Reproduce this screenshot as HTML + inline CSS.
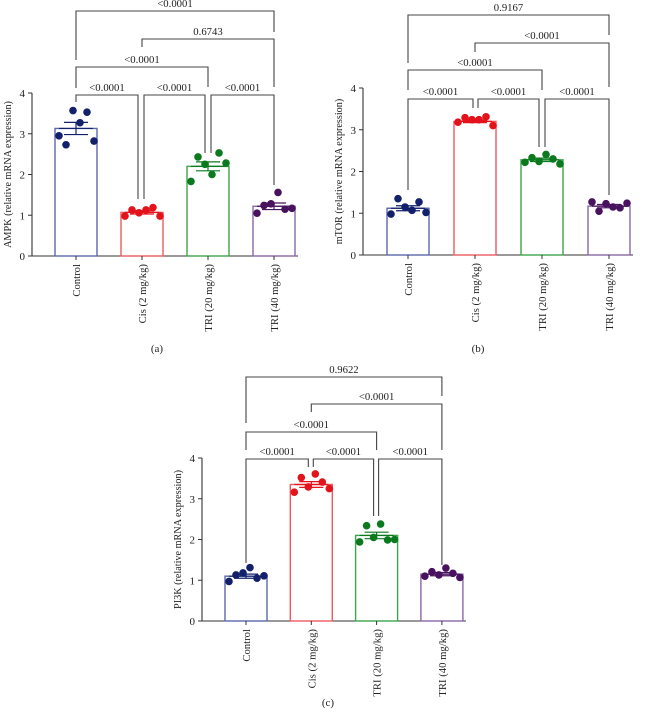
<!DOCTYPE html>
<html><head><meta charset="utf-8"><style>
html,body{margin:0;padding:0;background:#fff;}
svg{display:block;font-family:"Liberation Serif",serif;}
</style></head><body>
<svg id="fig" width="656" height="719" viewBox="0 0 656 719"></svg>
<script>
const categories = ["Control","Cis (2 mg/kg)","TRI (20 mg/kg)","TRI (40 mg/kg)"];
const yTicks = [0,1,2,3,4];
const ampkMeans = [3.13,1.07,2.2,1.22];
const ampkSem = [0.15,0.04,0.11,0.08];
const ampkDots = [[2.95,2.73,3.57,3.27,3.53,2.82],[0.98,1.13,1.06,1.13,1.19,0.98],[1.83,2.43,2.25,2.0,2.53,2.28],[1.05,1.24,1.28,1.56,1.15,1.17]];
const mtorMeans = [1.12,3.2,2.28,1.17];
const mtorSem = [0.06,0.03,0.04,0.04];
const mtorDots = [[0.98,1.35,1.15,1.07,1.27,1.02],[3.18,3.29,3.24,3.24,3.31,3.1],[2.22,2.33,2.24,2.41,2.3,2.18],[1.27,1.05,1.23,1.15,1.13,1.24]];
const pi3kMeans = [1.1,3.35,2.1,1.15];
const pi3kSem = [0.05,0.07,0.08,0.04];
const pi3kDots = [[0.97,1.13,1.18,1.31,1.05,1.11],[3.16,3.52,3.29,3.61,3.41,3.25],[1.94,2.34,2.05,2.38,1.99,2.0],[1.1,1.21,1.13,1.3,1.17,1.07]];
const ampkP = ["<0.0001","0.6743","<0.0001","<0.0001","<0.0001","<0.0001"];
const mtorP = ["0.9167","<0.0001","<0.0001","<0.0001","<0.0001","<0.0001"];
const pi3kP = ["0.9622","<0.0001","<0.0001","<0.0001","<0.0001","<0.0001"];

const dotColors=["#13206b","#e3121b","#0b7a1e","#48125e"];
const barColors=["#5b68ad","#ec5a5e","#3fa54c","#8a68a8"];
const NS="http://www.w3.org/2000/svg";
const svg=document.getElementById("fig");
function mk(tag,attrs,parent){const e=document.createElementNS(NS,tag);for(const k in attrs)e.setAttribute(k,attrs[k]);(parent||svg).appendChild(e);return e;}

function panel(cfg){
  const g=mk("g",{});
  
  
  const {ax,base,unit,c0,pitch}=cfg;
  const y=v=>base-v*unit;
  const x=i=>c0+i*pitch;
  const axisG=mk("g",{},g);
  
  
  mk("line",{x1:ax,y1:y(4),x2:ax,y2:base,stroke:"#333","stroke-width":1.1},axisG);
  yTicks.forEach(t=>{
    mk("line",{x1:ax-4,y1:y(t),x2:ax,y2:y(t),stroke:"#333"},axisG);
    const tx=mk("text",{x:ax-7,y:y(t)+4,"font-size":11,"text-anchor":"end",fill:"#222"},axisG);
    tx.textContent=t;
    
    
  });
  const yt=mk("text",{x:0,y:0,"font-size":10.2,"text-anchor":"middle",fill:"#222",transform:`translate(${ax-21},${y(2)}) rotate(-90)`},g);
  yt.textContent=cfg.ytitle;
  
  
  const xa=mk("line",{x1:ax,y1:base,x2:x(3)+24,y2:base,stroke:"#333","stroke-width":1.1},g);
  
  
  const offs=[-17,-10,-3,4,11,18];
  cfg.means.forEach((m,i)=>{
    const b=mk("rect",{x:x(i)-21,y:y(m),width:42,height:base-y(m),fill:"none",stroke:barColors[i],"stroke-width":1.4},g);
    
    
    mk("line",{x1:x(i),y1:base,x2:x(i),y2:base+4,stroke:"#333"},g);
    const lt=mk("text",{x:0,y:0,"font-size":10.7,"text-anchor":"end",fill:"#222",transform:`translate(${x(i)+4},${base+8}) rotate(-90)`},g);
    lt.textContent=categories[i];
    
    
    cfg.dots[i].forEach((v,k)=>{
      const d=mk("circle",{cx:x(i)+offs[k],cy:y(v),r:3.8,fill:dotColors[i]},g);
      
      
    });
    const s=cfg.sem[i];
    const e=mk("path",{d:`M${x(i)},${y(m+s)}V${y(m-s)}M${x(i)-12},${y(m+s)}H${x(i)+12}M${x(i)-12},${y(m-s)}H${x(i)+12}M${x(i)-17},${y(m)}H${x(i)+17}`,stroke:dotColors[i],"stroke-width":1.2,fill:"none"},g);
    
    
  });
  cfg.brackets.forEach(bk=>{
    const [i,j,ly,le,re,dl,dr,lab]=bk;
    const x1=x(i)+dl,x2=x(j)+dr;
    const p=mk("path",{d:`M${x1},${le}V${ly}H${x2}V${re}`,stroke:"#444","stroke-width":1.1,fill:"none"},g);
    
    
    const t=mk("text",{x:(x1+x2)/2,y:ly-4,"font-size":10.7,"text-anchor":"middle",fill:"#222"},g);
    t.textContent=lab;
    
    
  });
  const cap=mk("text",{x:cfg.capX,y:cfg.capY,"font-size":11,"text-anchor":"middle",fill:"#222"},g);
  cap.textContent=cfg.cap;
  
  
}

panel({name:"ampk-panel",ax:32,base:256,unit:40.75,c0:76,pitch:66,means:ampkMeans,sem:ampkSem,dots:ampkDots,
 ytitle:"AMPK (relative mRNA expression)",cap:"(a)",capX:157,capY:352,
 brackets:[[0,3,11,60,32,0,0,ampkP[0]],[1,3,39,47,87,0,0,ampkP[1]],[0,2,67,88,87,0,0,ampkP[2]],
 [0,1,95,102,199,0,-4,ampkP[3]],[1,2,95,199,153,2,-3,ampkP[4]],[2,3,95,153,185,3,0,ampkP[5]]]});
panel({name:"mtor-panel",ax:363,base:255,unit:41.75,c0:408,pitch:67,means:mtorMeans,sem:mtorSem,dots:mtorDots,
 ytitle:"mTOR (relative mRNA expression)",cap:"(b)",capX:478,capY:352,
 brackets:[[0,3,15,63,35,0,0,mtorP[0]],[1,3,43,52,87,0,0,mtorP[1]],[0,2,70,90,90,0,0,mtorP[2]],
 [0,1,99,190,108,0,-2,mtorP[3]],[1,2,99,108,147,3,-3,mtorP[4]],[2,3,99,147,195,3,0,mtorP[5]]]});
panel({name:"pi3k-panel",ax:202,base:621,unit:40.75,c0:246,pitch:65.3,means:pi3kMeans,sem:pi3kSem,dots:pi3kDots,
 ytitle:"PI3K (relative mRNA expression)",cap:"(c)",capX:328,capY:706,
 brackets:[[0,3,377,423,396,0,0,pi3kP[0]],[1,3,404,412,450,0,0,pi3kP[1]],[0,2,432,450,450,0,0,pi3kP[2]],
 [0,1,459,563,467,0,-3,pi3kP[3]],[1,2,459,467,516,2,-3,pi3kP[4]],[2,3,459,516,565,2,0,pi3kP[5]]]});
</script>
</body></html>
